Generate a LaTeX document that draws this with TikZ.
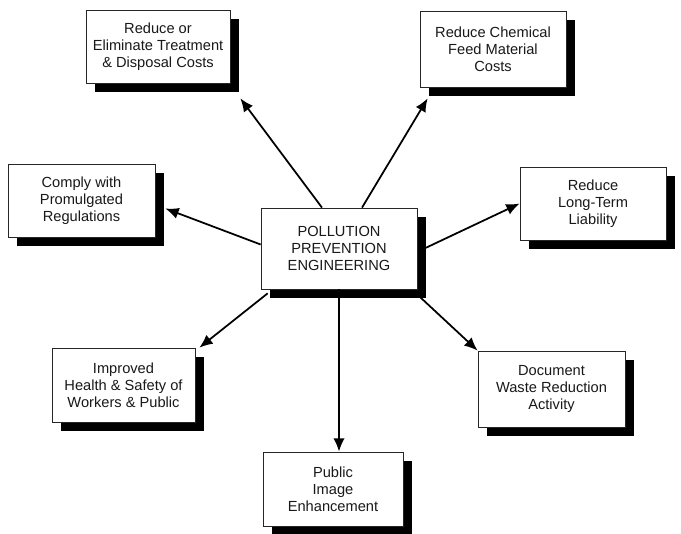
\documentclass[tikz,border=0pt]{standalone}
\usepackage{fontspec}
\setmainfont{Liberation Sans}
\usetikzlibrary{arrows.meta,shadows}
\begin{document}
\begin{tikzpicture}[x=0.03cm,y=-0.03cm,font=\fontsize{12.5}{14.5}\selectfont,
	box/.style={draw=black!85,line width=0.6pt,fill=white,align=center,inner sep=0pt,text=black!90,
		drop shadow={shadow xshift=0.27cm,shadow yshift=-0.27cm,fill=black,opacity=1}},
	arr/.style={-{Latex[length=4mm,width=3.4mm]},line width=1.5pt}]
	\useasboundingbox (0,0) rectangle (681,533);
	\node[box,minimum width=4.32cm,minimum height=2.19cm] (reduce) at (158,46.5) {Reduce or\\Eliminate Treatment\\\& Disposal Costs};
	\node[box,minimum width=4.38cm,minimum height=2.28cm] (chem) at (493,49) {Reduce Chemical\\Feed Material\\Costs};
	\node[box,minimum width=4.41cm,minimum height=2.19cm] (comply) at (81.5,200.5) {Comply with\\Promulgated\\Regulations};
	\node[box,minimum width=4.38cm,minimum height=2.19cm] (liab) at (593,203.5) {Reduce\\Long-Term\\Liability};
	\node[box,minimum width=4.68cm,minimum height=2.43cm] (ppe) at (339,248.5) {POLLUTION\\PREVENTION\\ENGINEERING};
	\node[box,minimum width=4.29cm,minimum height=2.22cm] (health) at (123.5,385) {Improved\\Health \& Safety of\\Workers \& Public};
	\node[box,minimum width=4.41cm,minimum height=2.28cm] (doc) at (551.5,389) {Document\\Waste Reduction\\Activity};
	\node[box,minimum width=4.2cm,minimum height=2.22cm] (image) at (333,489) {Public\\Image\\Enhancement};
	% arrows out of the centre box
	\draw[arr] ([shift={(-17,0)}]ppe.north) -- ([shift={(10,15)}]reduce.south east);
	\draw[arr] ([shift={(23,0)}]ppe.north) -- ([shift={(8,11)}]chem.south west);
	\draw[arr] ([shift={(0,-4)}]ppe.west) -- ([shift={(10,8)}]comply.east);
	\draw[arr] ([shift={(7,0)}]ppe.east) -- (liab.west);
	\draw[arr] ([shift={(7,4)}]ppe.south west) -- ([shift={(4,0)}]health.north east);
	\draw[arr] ([shift={(3,8)}]ppe.south east) -- (doc.north west);
	\draw[arr] (ppe.south) -- (ppe.south |- image.north);
\end{tikzpicture}
\end{document}
